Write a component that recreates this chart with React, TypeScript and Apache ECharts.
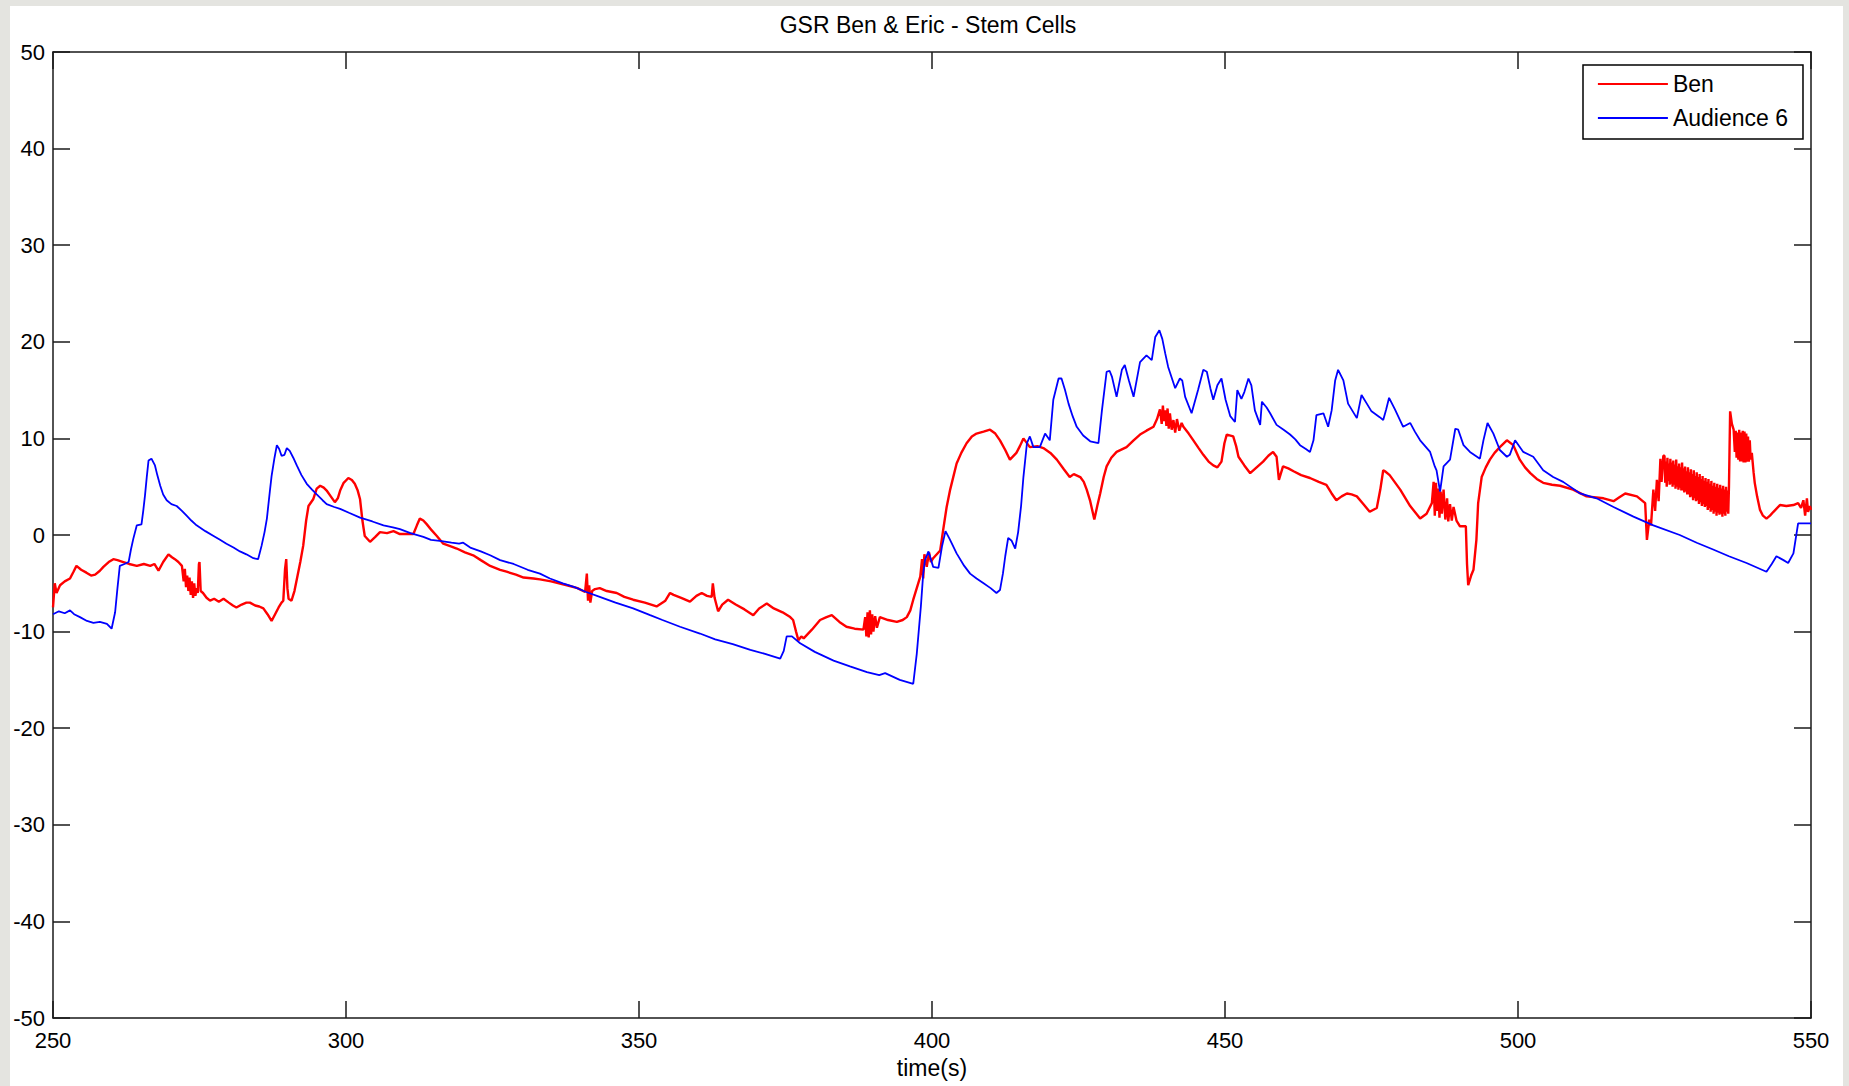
import React, { useEffect, useRef } from "react";
import * as echarts from "echarts";

const FONT = "'Liberation Sans', Arial, Helvetica, sans-serif";
const TITLE = "GSR Ben & Eric - Stem Cells";
const X_LABEL = "time(s)";
const SERIES_NAMES = ["Ben", "Audience 6"];
const X_MIN = 250;
const X_MAX = 550;
const X_STEP = 50;
const Y_MIN = -50;
const Y_MAX = 50;
const Y_STEP = 10;

// Ben (red) – [time (s), GSR]
const benData: [number, number][] = [
  [250, -7.5], [250.3, -5], [250.6, -6], [251.2, -5.2], [252, -4.8], [252.9, -4.5], [253.5, -3.8], [254, -3.2],
  [254.8, -3.6], [255.7, -3.9], [256.5, -4.2], [257.2, -4.1], [258, -3.7], [258.6, -3.3], [259.5, -2.8], [260.3, -2.5],
  [261, -2.6], [262, -2.8], [263, -3.0], [264.3, -3.2], [265.5, -3.0], [266.6, -3.2], [267.3, -3.0], [268, -3.7],
  [268.8, -2.8], [269.7, -2.0], [270.3, -2.3], [270.8, -2.5], [271.4, -2.8], [272, -3.2],
  [272.3, -4.8], [272.5, -3.5], [272.7, -5.4], [272.9, -4.2], [273.1, -5.8], [273.3, -4.4], [273.5, -6.2], [273.7, -4.8],
  [273.9, -6.5], [274.1, -5.0], [274.3, -6.3], [274.5, -5.5], [274.7, -6.0], [274.9, -3.0], [275.0, -2.8], [275.2, -5.8],
  [275.6, -6.0], [276.2, -6.5], [276.8, -6.8], [277.5, -6.6], [278.3, -6.9], [279.1, -6.6], [280, -7.0], [280.7, -7.3],
  [281.3, -7.5], [282.2, -7.2], [283, -7.0], [283.6, -7.0], [284.5, -7.3], [285.2, -7.4], [285.9, -7.6], [286.6, -8.2],
  [287.3, -8.9], [287.9, -8.2], [288.5, -7.5], [289.0, -7.0], [289.3, -6.8], [289.6, -3.5], [289.8, -2.5], [290.0, -5.5],
  [290.2, -6.6], [290.7, -6.8], [291.2, -5.8], [291.6, -4.6], [292.2, -2.8], [292.7, -1.1], [293.2, 1.5], [293.6, 3.0],
  [294.4, 3.7], [295, 4.8], [295.6, 5.1], [296.2, 4.9], [296.7, 4.6], [297.4, 4.0], [298.1, 3.4], [298.6, 3.8],
  [299, 4.6], [299.6, 5.4], [300.4, 5.9], [301, 5.7], [301.5, 5.3], [302, 4.6], [302.4, 3.7], [302.8, 1.5],
  [303.2, -0.1], [304.1, -0.7], [305, -0.2], [305.8, 0.3], [307, 0.2], [308.1, 0.4], [309.2, 0.1], [310.4, 0.1],
  [311.5, 0.1], [312.1, 1.0], [312.6, 1.7], [313.2, 1.5], [313.8, 1.1], [314.6, 0.5], [315.5, -0.1], [316.6, -0.9],
  [318, -1.2], [318.9, -1.4], [320.3, -1.8], [321.7, -2.1], [323, -2.6], [324.6, -3.2], [326.3, -3.6], [327.4, -3.8],
  [329, -4.1], [330.3, -4.4], [332, -4.5], [333.1, -4.6], [335, -4.8], [337.7, -5.2], [339.5, -5.5], [340.8, -5.9],
  [341.1, -4.0], [341.3, -6.8], [341.5, -5.2], [341.7, -7.0], [342.0, -5.8], [342.5, -5.6], [343.3, -5.5], [344.5, -5.8],
  [346.2, -6.0], [347.5, -6.4], [349, -6.7], [351, -7.0], [353, -7.4], [354.5, -6.8], [355.3, -6.0], [355.9, -6.2],
  [357.2, -6.5], [358.7, -6.9], [359.8, -6.3], [360.7, -6.0], [361.6, -6.3], [362.4, -6.4], [362.6, -5.0], [362.9, -6.5],
  [363.5, -7.9], [364.2, -7.2], [365.2, -6.7], [366.5, -7.2], [368, -7.7], [369.5, -8.3], [370.5, -7.6], [371.8, -7.1],
  [373, -7.6], [374.5, -8.0], [375.8, -8.5], [376.3, -8.8], [376.8, -10.0], [377.2, -10.9], [377.7, -10.5], [378.1, -10.7],
  [379.5, -9.8], [380.9, -8.8], [382, -8.5], [382.9, -8.3], [384.2, -9.0], [385.4, -9.5], [386.8, -9.7], [388.3, -9.8],
  [388.6, -8.5], [388.8, -10.5], [389.0, -8.0], [389.2, -10.6], [389.4, -7.8], [389.6, -10.3], [389.8, -8.2], [390.0, -10.0],
  [390.3, -8.4], [390.6, -9.6], [391.1, -8.5], [392.5, -8.8], [394, -9.0], [395, -8.8], [395.7, -8.5], [396.3, -7.8],
  [396.8, -6.7], [397.4, -5.5], [398, -4.3], [398.3, -2.5], [398.5, -4.5], [398.7, -2.0], [399.1, -3.3], [399.5, -1.8],
  [399.8, -2.8], [400.2, -2.4], [401.4, -1.6], [401.9, 0.5], [402.5, 2.9], [403.1, 4.7], [404.2, 7.4], [405, 8.5],
  [405.9, 9.5], [406.8, 10.2], [407.6, 10.5], [408.8, 10.7], [409.9, 10.9], [410.8, 10.5], [411.6, 9.8], [412.5, 8.8],
  [413.3, 7.8], [414.4, 8.5], [415.0, 9.2], [415.6, 10.0], [416.7, 9.1], [418, 9.2], [419, 9.0], [420.2, 8.5],
  [421.3, 7.8], [422.5, 6.8], [423.5, 6.0], [424.2, 6.3], [425.3, 6.0], [425.9, 5.5], [426.4, 4.7], [427, 3.5],
  [427.7, 1.6], [428.2, 3.0], [428.7, 4.3], [429.3, 6.0], [429.8, 7.1], [430.6, 8.0], [431.5, 8.6], [433.2, 9.1],
  [434.4, 9.8], [435.5, 10.4], [436.6, 10.8], [437.8, 11.2], [438.4, 12.0], [438.9, 13.0],
  [439.2, 11.5], [439.4, 13.4], [439.6, 11.8], [439.8, 12.9], [440.0, 11.3], [440.2, 13.1], [440.4, 11.0], [440.6, 12.6],
  [440.9, 10.9], [441.2, 11.9], [441.5, 10.6], [441.8, 12.0], [442.2, 10.8], [442.6, 11.6], [442.9, 11.2], [443.8, 10.5],
  [444.6, 9.8], [445.5, 9.0], [446.3, 8.3], [447.2, 7.6], [448, 7.2], [448.7, 7.0], [449.4, 7.6], [449.9, 9.5],
  [450.3, 10.4], [451.4, 10.2], [451.9, 9.2], [452.3, 8.1], [453.3, 7.2], [454.3, 6.4], [455.4, 7.0], [456.5, 7.6],
  [457.4, 8.2], [458.2, 8.6], [458.8, 8.1], [459.2, 5.7], [459.9, 7.1], [460.8, 6.9], [461.7, 6.6], [463, 6.2],
  [464.5, 5.9], [466, 5.5], [467.3, 5.2], [468.2, 4.3], [469, 3.6], [469.9, 4.0], [470.8, 4.3], [471.6, 4.2],
  [472.5, 4.0], [473.6, 3.2], [474.7, 2.4], [475.9, 2.8], [476.5, 4.7], [477.0, 6.7], [477.3, 6.6], [478.1, 6.2],
  [479.9, 4.7], [481.6, 3.0], [483.3, 1.7], [484.4, 2.2], [485.3, 3.3],
  [485.6, 5.5], [485.8, 2.0], [486.0, 5.4], [486.2, 2.5], [486.4, 4.8], [486.6, 1.8], [486.8, 4.5], [487.0, 2.2],
  [487.3, 4.7], [487.6, 1.6], [487.9, 3.8], [488.1, 1.4], [488.4, 3.2], [488.7, 1.5], [489.0, 2.9], [489.5, 1.5],
  [490.1, 0.9], [491.1, 0.9], [491.3, -3.0], [491.5, -5.2], [492.0, -4.2], [492.4, -3.6], [492.9, -0.5], [493.2, 3.3],
  [493.8, 6.0], [494.5, 7.0], [495.2, 7.8], [496, 8.5], [496.9, 9.1], [498.1, 9.8], [499.2, 9.3], [500.3, 7.8],
  [501.2, 7.0], [502.1, 6.4], [503.2, 5.8], [504.3, 5.4], [505.8, 5.2], [507.2, 5.1], [509.4, 4.7], [511.7, 4.0],
  [514.6, 3.8], [516.3, 3.5], [517.3, 3.9], [518.3, 4.3], [520.3, 4.0], [521.7, 3.3], [522, -0.5], [522.4, 1.6],
  [522.7, 1.0], [523.1, 4.7], [523.4, 2.5], [523.7, 5.7], [524.0, 3.5], [524.3, 7.9], [524.5, 5.5], [524.8, 8.2],
  [525.0, 8.2], [525.12, 5.4], [525.25, 7.6], [525.38, 5.0], [525.5, 8.0], [525.62, 5.6], [525.75, 7.4], [525.88, 5.2],
  [526.0, 7.9], [526.12, 5.3], [526.25, 7.5], [526.38, 5.0], [526.5, 7.7], [526.62, 5.2], [526.75, 7.3], [526.88, 4.8],
  [527.0, 7.8], [527.12, 5.0], [527.25, 7.1], [527.38, 4.7], [527.5, 7.4], [527.62, 4.9], [527.75, 7.0], [527.88, 4.6],
  [528.0, 7.5], [528.12, 4.6], [528.25, 6.9], [528.38, 4.4], [528.5, 7.1], [528.62, 4.5], [528.75, 6.6], [528.88, 4.2],
  [529.0, 7.0], [529.12, 4.2], [529.25, 6.5], [529.38, 3.9], [529.5, 6.8], [529.62, 4.0], [529.75, 6.3], [529.88, 3.6],
  [530.0, 6.7], [530.12, 3.8], [530.25, 6.1], [530.38, 3.5], [530.5, 6.5], [530.62, 3.6], [530.75, 6.0], [530.88, 3.2],
  [531.0, 6.3], [531.12, 3.4], [531.25, 5.8], [531.38, 3.0], [531.5, 6.1], [531.62, 3.2], [531.75, 5.6], [531.88, 2.9],
  [532.0, 5.9], [532.12, 3.0], [532.25, 5.5], [532.38, 2.6], [532.5, 5.8], [532.62, 2.8], [532.75, 5.3], [532.88, 2.4],
  [533.0, 5.6], [533.12, 2.6], [533.25, 5.1], [533.38, 2.2], [533.5, 5.4], [533.62, 2.4], [533.75, 5.0], [533.88, 2.0],
  [534.0, 5.3], [534.12, 2.3], [534.25, 4.9], [534.38, 2.1], [534.5, 5.2], [534.62, 2.2], [534.75, 4.8], [534.88, 1.9],
  [535.0, 5.1], [535.12, 2.2], [535.25, 4.7], [535.38, 2.0], [535.5, 5.0], [535.62, 2.4], [535.75, 4.6], [535.88, 2.2],
  [536.0, 5.0], [536.2, 12.8], [536.5, 11.5], [536.8, 10.9],
  [537.0, 8.6], [537.15, 10.8], [537.3, 8.0], [537.45, 10.6], [537.6, 7.8], [537.75, 10.9], [537.9, 7.6], [538.05, 10.6],
  [538.2, 7.6], [538.35, 10.8], [538.5, 7.5], [538.65, 10.7], [538.8, 7.5], [538.95, 10.5], [539.1, 7.6], [539.25, 10.2],
  [539.4, 7.6], [539.55, 9.8], [539.7, 7.8], [539.9, 8.5], [540.2, 6.5], [540.4, 5.4], [540.8, 4.0], [541.3, 2.6], [541.8, 2.0],
  [542.4, 1.7], [543.0, 2.0], [543.6, 2.4], [544.7, 3.1], [545.8, 3.0], [547, 3.1], [547.8, 3.3], [548.3, 2.8],
  [548.7, 3.6], [549.0, 2.0], [549.3, 3.8], [549.5, 2.4], [549.8, 3.0], [550, 2.6],
];

// Audience 6 (blue) – [time (s), GSR]
const audienceData: [number, number][] = [
  [250, -8.2], [251, -7.9], [252, -8.1], [252.9, -7.8], [253.6, -8.2], [254.6, -8.5], [255.8, -8.9], [256.9, -9.1],
  [258, -9.0], [259.2, -9.2], [260, -9.7], [260.6, -8.0], [261.0, -5.5], [261.4, -3.2], [262.2, -3.0], [262.9, -2.8],
  [263.3, -1.5], [263.7, -0.4], [264.3, 1.0], [265.1, 1.1], [265.4, 2.5], [265.7, 4.1], [266, 6.0], [266.3, 7.7],
  [266.8, 7.9], [267.4, 7.2], [267.8, 6.2], [268.3, 5.1], [268.8, 4.2], [269.4, 3.6], [270.2, 3.2], [271.1, 3.0],
  [272, 2.5], [272.8, 2.0], [273.6, 1.5], [274.5, 1.0], [276, 0.4], [277.4, -0.1], [278.5, -0.5], [279.6, -0.9],
  [280.8, -1.3], [281.9, -1.7], [283, -2.0], [284.2, -2.4], [285, -2.5], [285.6, -1.1], [286.1, 0.3], [286.5, 1.7],
  [287, 4.5], [287.3, 6.1], [287.8, 8.0], [288.2, 9.3], [288.6, 8.9], [289, 8.2], [289.5, 8.3], [289.9, 9.0],
  [290.4, 8.7], [291, 8.0], [291.6, 7.2], [292.4, 6.2], [293.3, 5.3], [294.2, 4.7], [295, 4.2], [296, 3.6],
  [296.7, 3.2], [298, 2.9], [299, 2.7], [300.5, 2.3], [302.4, 1.8], [304.5, 1.4], [306.4, 1.0], [308, 0.8],
  [309.2, 0.6], [311, 0.2], [313.2, -0.2], [314.5, -0.5], [316, -0.6], [318, -0.8], [319.3, -0.9], [320, -0.8],
  [321.2, -1.3], [323, -1.7], [324.6, -2.1], [326.3, -2.6], [328.6, -3.0], [331, -3.6], [333.1, -4.0], [334.8, -4.5],
  [337, -5.0], [339, -5.4], [341, -5.9], [343.3, -6.4], [346, -7.0], [349, -7.6], [351.9, -8.3], [354, -8.8],
  [357, -9.5], [360.4, -10.2], [363, -10.8], [366, -11.3], [369, -11.9], [371.5, -12.3], [374.1, -12.8], [374.7, -12.0],
  [375.2, -10.5], [376.1, -10.5], [377.5, -11.2], [380, -12.1], [383.2, -13.0], [386, -13.6], [388.9, -14.2], [391, -14.5],
  [392, -14.3], [394.5, -15.0], [396.8, -15.4], [397.4, -12.3], [398.1, -7.4], [398.5, -4.0], [398.8, -2.6], [399.4, -1.7],
  [400.2, -3.3], [401.1, -3.4], [401.7, -1.2], [402.3, 0.4], [403, -0.4], [404.2, -1.9], [405.5, -3.2], [406.5, -4.0],
  [407.6, -4.5], [408.8, -5.0], [410, -5.5], [411.0, -6.0], [411.6, -5.7], [412.1, -4.0], [412.5, -2.2], [413, -0.3],
  [413.6, -0.6], [414.2, -1.4], [414.7, 0.3], [415.2, 3.0], [415.6, 6.0], [416.2, 9.5], [416.7, 10.2], [417.3, 9.1],
  [418.4, 9.1], [419.3, 10.5], [420.1, 9.8], [420.7, 14.0], [421.6, 16.2], [422.1, 16.2], [422.7, 15.0], [423.3, 13.6],
  [424, 12.3], [424.7, 11.2], [425.8, 10.3], [427, 9.7], [428.4, 9.5], [429, 12.9], [429.8, 16.9], [430.3, 17.0],
  [430.7, 16.4], [431.5, 14.3], [432.4, 17.1], [432.9, 17.6], [433.6, 16.0], [434.4, 14.3], [435.5, 17.9], [436.6, 18.6],
  [437.5, 18.1], [438.1, 20.5], [438.8, 21.2], [439.3, 20.3], [439.8, 18.8], [440.3, 17.4], [441.5, 15.2], [442.3, 16.2],
  [442.7, 16.0], [443.2, 14.3], [444.3, 12.6], [445.4, 15.0], [446.3, 17.1], [446.9, 16.9], [447.5, 15.2], [448, 14.0],
  [448.7, 15.5], [449.4, 16.2], [450.1, 14.0], [450.9, 12.3], [451.7, 11.7], [452.1, 15.0], [452.8, 14.1], [453.3, 14.8],
  [454, 16.2], [454.5, 15.5], [455.1, 12.9], [456, 11.4], [456.3, 13.8], [457.1, 13.2], [457.7, 12.6], [458.8, 11.4],
  [460, 10.9], [461.1, 10.4], [462, 9.9], [462.8, 9.3], [463.8, 8.9], [464.5, 8.6], [465.1, 9.8], [465.6, 12.4],
  [466.8, 12.6], [467.6, 11.2], [468.2, 12.9], [468.8, 16.0], [469.3, 17.1], [470.2, 16.0], [471, 13.6], [472.5, 12.1],
  [473.3, 14.5], [474.2, 13.6], [475, 12.8], [476.4, 12.2], [477, 11.9], [477.5, 13.0], [478.0, 14.2], [479, 13.0],
  [480.4, 11.2], [481.6, 11.6], [482.4, 10.7], [483.3, 9.8], [485, 8.6], [485.8, 7.1], [486.1, 6.7], [486.7, 4.5],
  [487.3, 7.1], [488.4, 7.8], [489.3, 11.0], [489.8, 10.9], [490.7, 9.3], [491.8, 8.6], [493.5, 7.9], [494.1, 9.8],
  [494.8, 11.6], [495.8, 10.5], [496.9, 8.8], [498.1, 8.1], [498.6, 8.3], [499.5, 9.8], [500.9, 8.6], [502.6, 8.1],
  [504.3, 6.7], [506, 6.0], [507.7, 5.5], [510.6, 4.3], [513.4, 3.8], [516.3, 2.9], [519.7, 1.9], [523.1, 1.0],
  [527.6, 0.0], [530.5, -0.8], [533.3, -1.5], [536, -2.2], [539, -2.9], [542.4, -3.8], [543.3, -3.0], [544.1, -2.2],
  [545.3, -2.6], [546.1, -2.9], [547, -1.9], [547.8, 1.2], [549, 1.2], [550, 1.2],
];

const AXIS_COLOR = "#1a1a1a";

export default function App() {
  const ref = useRef<HTMLDivElement>(null);

  useEffect(() => {
    document.body.style.margin = "0";
    if (!ref.current) return;
    const chart = echarts.init(ref.current, null, { renderer: "svg" });
    const axisLine = { show: true, onZero: false, lineStyle: { color: AXIS_COLOR, width: 1.5 } };
    const axisTick = { show: true, inside: true, length: 17, lineStyle: { color: AXIS_COLOR, width: 1.5 } };
    const xCommon = { type: "value" as const, min: X_MIN, max: X_MAX, interval: X_STEP, splitLine: { show: false }, axisLine, axisTick };
    const yCommon = { type: "value" as const, min: Y_MIN, max: Y_MAX, interval: Y_STEP, splitLine: { show: false }, axisLine, axisTick };
    chart.setOption({
      animation: false,
      textStyle: { fontFamily: FONT },
      grid: { left: 53, top: 52, width: 1758, height: 966 },
      graphic: [
        {
          type: "text",
          x: 928,
          y: 25,
          style: {
            text: TITLE,
            fontSize: 23,
            fontFamily: FONT,
            fill: "#000",
            align: "center",
            verticalAlign: "middle",
          },
        },
      ],
      legend: {
        data: SERIES_NAMES,
        orient: "vertical",
        left: 1583,
        top: 65,
        padding: [7, 15, 9, 14],
        itemGap: 10,
        itemWidth: 70,
        itemHeight: 14,
        borderColor: "#000",
        borderWidth: 1.5,
        borderRadius: 0,
        backgroundColor: "#fff",
        selectedMode: false,
        itemStyle: { opacity: 0 },
        lineStyle: { width: 1.8 },
        textStyle: { fontSize: 23, color: "#000", lineHeight: 24, fontFamily: FONT },
      },
      xAxis: [
        {
          ...xCommon,
          position: "bottom",
          axisLabel: { margin: 11, fontSize: 22, color: "#000", fontFamily: FONT },
          name: X_LABEL,
          nameLocation: "middle",
          nameGap: 38,
          nameTextStyle: { fontSize: 23, color: "#000", fontFamily: FONT },
        },
        { ...xCommon, position: "top", axisLabel: { show: false } },
      ],
      yAxis: [
        {
          ...yCommon,
          position: "left",
          axisLabel: { margin: 8, fontSize: 22, color: "#000", fontFamily: FONT },
        },
        { ...yCommon, position: "right", axisLabel: { show: false } },
      ],
      series: [
        {
          name: SERIES_NAMES[0],
          type: "line",
          data: benData,
          symbol: "none",
          showSymbol: false,
          color: "#ff0000",
          lineStyle: { color: "#ff0000", width: 2.4 },
          xAxisIndex: 0,
          yAxisIndex: 0,
        },
        {
          name: SERIES_NAMES[1],
          type: "line",
          data: audienceData,
          symbol: "none",
          showSymbol: false,
          color: "#0000ff",
          lineStyle: { color: "#0000ff", width: 1.8 },
          xAxisIndex: 0,
          yAxisIndex: 0,
        },
      ],
    });
    return () => chart.dispose();
  }, []);

  return (
    <div style={{ position: "relative", width: 1849, height: 1086, background: "#e4e4e0", overflow: "hidden" }}>
      <div style={{ position: "absolute", left: 10, top: 6, width: 1833, height: 1080, background: "#ffffff" }} />
      <div ref={ref} style={{ position: "absolute", left: 0, top: 0, width: 1849, height: 1086 }} />
    </div>
  );
}
